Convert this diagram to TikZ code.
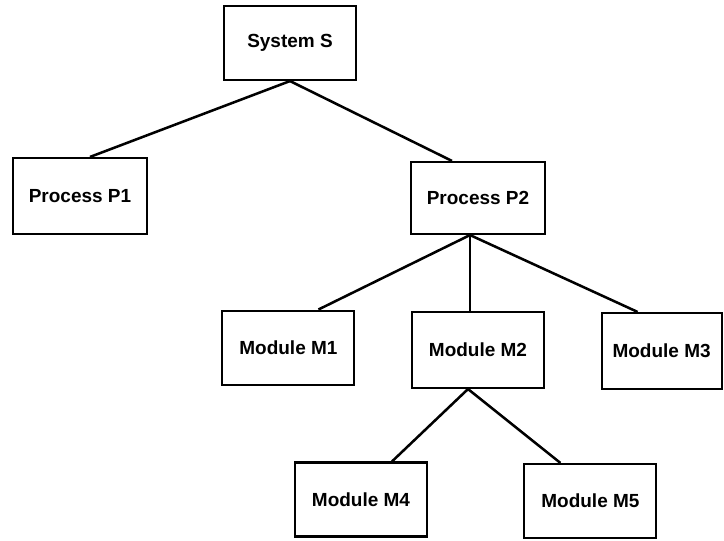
\documentclass[tikz,border=0pt]{standalone}
\usepackage{fontspec}
\setmainfont{Liberation Sans}
\tikzset{
	unit/.style={draw, line width=1.5pt, inner sep=0pt, minimum width=3.3cm, minimum height=1.85cm, font=\fontsize{13.5}{16}\selectfont\bfseries},
	link/.style={line width=1.8pt}
}
\begin{document}
\begin{tikzpicture}
\useasboundingbox (0,0) rectangle (18.1,13.5);
\node[unit] (sys) at (7.25,12.425) {System S};
\node[unit, minimum width=3.35cm, minimum height=1.9cm] (p1) at (2.0,8.6) {Process P1};
\node[unit, minimum width=3.35cm, minimum height=1.8cm] (p2) at (11.95,8.55) {Process P2};
\node[unit] (m1) at (7.21,4.81) {Module M1};
\node[unit, minimum height=1.9cm] (m2) at (11.95,4.75) {Module M2};
\node[unit, minimum width=3.0cm, minimum height=1.9cm] (m3) at (16.54,4.725) {Module M3};
\node[unit] (m4) at (9.025,1.0125) {Module M4};
\node[unit] (m5) at (14.76,0.975) {Module M5};
\draw[link] (sys.south) -- ([xshift=0.25cm]p1.north);
\draw[link] (sys.south) -- ([xshift=-0.65cm]p2.north);
\foreach \m/\s in {m1/0.75, m2/-0.2, m3/-0.6}
{
	\draw[link] ([xshift=-0.2cm]p2.south) -- ([xshift=\s cm]\m.north);
}
\draw[link] ([xshift=-0.25cm]m2.south) -- ([xshift=0.775cm]m4.north);
\draw[link] ([xshift=-0.25cm]m2.south) -- ([xshift=-0.75cm]m5.north);
\end{tikzpicture}
\end{document}
